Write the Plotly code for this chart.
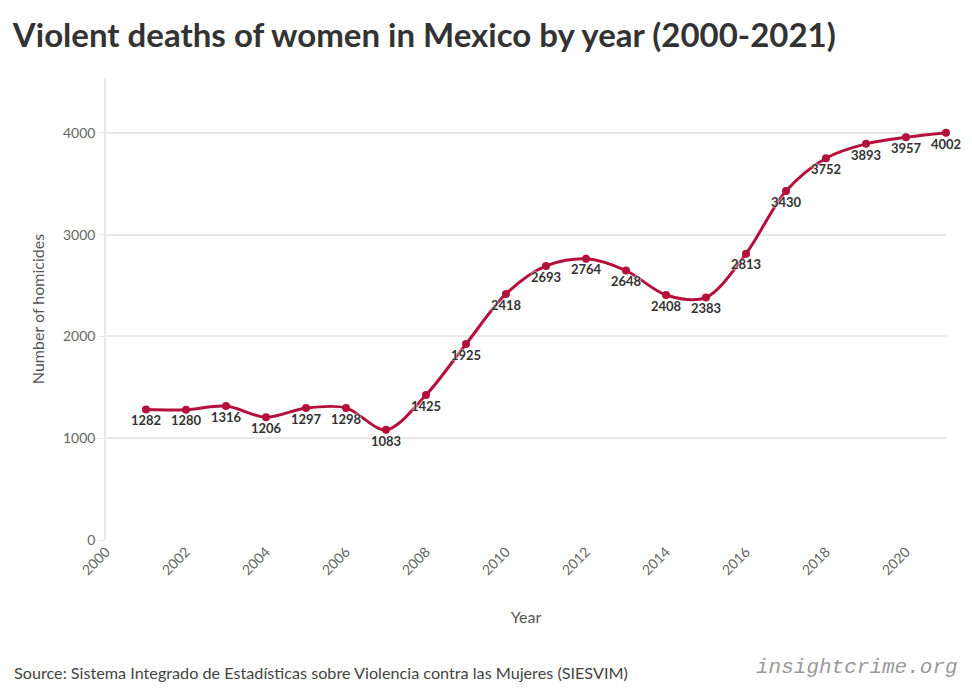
import plotly.graph_objects as go

years = list(range(2001, 2022))
homicides = [1282, 1280, 1316, 1206, 1297, 1298, 1083, 1425, 1925, 2418, 2693,
             2764, 2648, 2408, 2383, 2813, 3430, 3752, 3893, 3957, 4002]
x_ticks = list(range(2000, 2021, 2))
y_ticks = [0, 1000, 2000, 3000, 4000]

line_color = '#b3103c'
font_family = 'Lato, "Source Sans Pro", sans-serif'

fig = go.Figure()
fig.add_trace(go.Scatter(
    x=years,
    y=homicides,
    mode='lines+markers+text',
    line=dict(color=line_color, width=3, shape='spline', smoothing=0.9),
    marker=dict(color=line_color, size=8),
    text=[str(v) for v in homicides],
    textposition='bottom center',
    textfont=dict(family=font_family, size=13, color='#333333', weight='bold',
                  shadow='0 0 2px #ffffff, 0 0 2px #ffffff'),
    showlegend=False,
    cliponaxis=False,
))

fig.update_layout(
    width=972,
    height=697,
    margin=dict(l=98, r=34, t=70, b=165, autoexpand=False),
    paper_bgcolor='white',
    plot_bgcolor='white',
    font=dict(family=font_family, color='#555555'),
    title=dict(
        text='<b>Violent deaths of women in Mexico by year (2000-2021)</b>',
        x=0.005, xanchor='left', y=0.961, yanchor='middle',
        font=dict(size=33, color='#333333', family=font_family),
    ),
    xaxis=dict(
        range=[2000, 2021],
        tickvals=x_ticks,
        tickangle=-45,
        tickfont=dict(size=14, color='#666666'),
        showgrid=False,
        zeroline=False,
        showline=False,
        automargin=False,
        title=dict(text='Year', font=dict(size=16, color='#555555'), standoff=34),
    ),
    yaxis=dict(
        range=[0, 4540],
        tickvals=y_ticks,
        tickfont=dict(size=14, color='#666666'),
        showgrid=True,
        gridcolor='#e8e8e8',
        gridwidth=1.5,
        zeroline=False,
        showline=True,
        linecolor='#e8e8e8',
        linewidth=1.5,
        ticks='outside',
        tickcolor='#e8e8e8',
        ticklen=6,
        automargin=False,
        title=dict(text='Number of homicides', font=dict(size=16, color='#555555'), standoff=14),
    ),
)

fig.add_annotation(
    text='Source: Sistema Integrado de Estadísticas sobre Violencia contra las Mujeres (SIESVIM)',
    xref='paper', yref='paper', x=-0.112, y=-0.286,
    xanchor='left', yanchor='middle', showarrow=False,
    font=dict(size=16.2, color='#444444', family=font_family),
)
fig.add_annotation(
    text='<i>insightcrime.org</i>',
    xref='paper', yref='paper', x=1.0167, y=-0.277,
    xanchor='right', yanchor='middle', showarrow=False,
    font=dict(size=21, color='#9a9a9a', family='"Liberation Mono", monospace'),
)

fig.write_html('out.html')
